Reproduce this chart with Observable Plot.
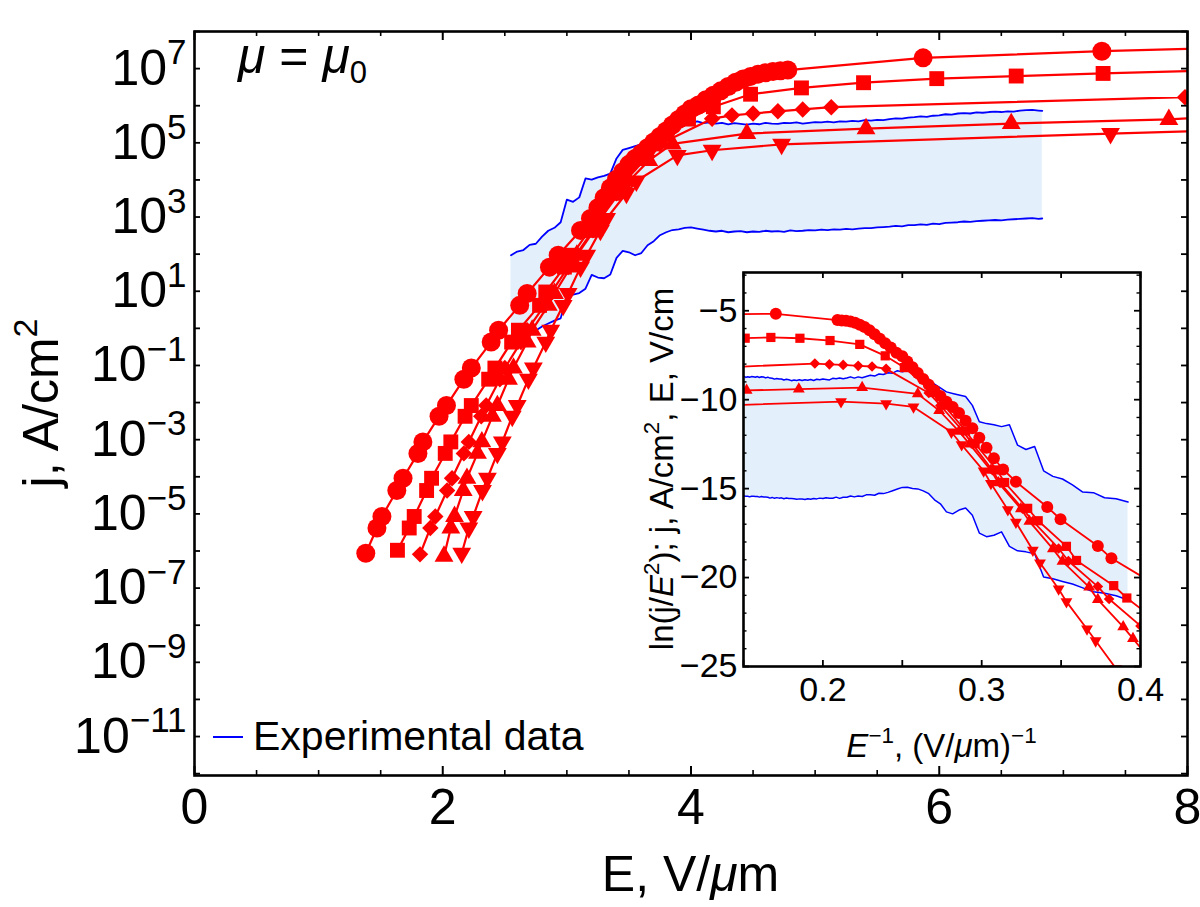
<!DOCTYPE html>
<html><head><meta charset="utf-8">
<script src="https://cdn.jsdelivr.net/npm/d3@7"></script>
<script src="https://cdn.jsdelivr.net/npm/@observablehq/plot@0.6"></script>
<style>
html,body{margin:0;padding:0;background:#fff;}
#wrap{position:relative;width:1200px;height:907px;overflow:hidden;background:#fff;}
#inset{position:absolute;left:640px;top:255px;}
</style></head>
<body><div id="wrap"><div id="main"></div><div id="inset"></div></div>
<script>
// ---------------- DATA (E in V/um, log10 of j in A/cm^2) ----------------
const circleE    = [1.38,1.47,1.51,1.63,1.68,1.80,1.84,1.97,2.03,2.17,2.23,2.39,2.45,2.62,2.68,2.86,2.93,3.11,3.19,
                    3.25,3.30,3.35,3.40,3.45,3.50,3.55,3.60,3.65,3.70,3.75,3.80,3.85,3.90,3.95,4.00,4.06,4.12,4.18,4.24,4.30,4.36,4.42,4.48,4.54,4.60,4.66,4.72,4.78,5.87,7.31];
const circleLogJ = [-6.06,-5.38,-5.07,-4.37,-4.04,-3.37,-3.06,-2.37,-2.08,-1.37,-1.07,-0.37,-0.05,0.62,0.94,1.65,1.97,2.64,2.96,
                    3.25,3.52,3.78,4.02,4.22,4.42,4.58,4.72,4.87,5.02,5.17,5.32,5.48,5.63,5.78,5.92,6.02,6.16,6.28,6.40,6.52,6.63,6.72,6.79,6.85,6.89,6.92,6.94,6.96,7.29,7.47];
const circleEnd  = [8.0, 7.53];

const squareE    = [1.635,1.73,1.77,1.87,1.91,2.02,2.065,2.18,2.23,2.37,2.42,2.555,2.61,2.78,2.83,2.98,3.04,3.18,3.23,3.38,3.45,3.62,3.71,3.98,4.18,4.48,4.89,5.39,5.98,6.62,7.32];
const squareLogJ = [-5.98,-5.38,-5.07,-4.37,-4.04,-3.37,-3.06,-2.37,-2.08,-1.37,-1.07,-0.37,-0.05,0.62,0.98,1.65,1.97,2.64,2.96,3.64,3.97,4.64,4.97,5.64,5.97,6.31,6.48,6.62,6.73,6.80,6.87];
const squareEnd  = [8.0, 6.93];

const diamondE    = [1.817,1.90,1.94,2.035,2.075,2.17,2.21,2.31,2.35,2.46,2.50,2.63,2.68,2.82,2.87,3.01,3.07,3.21,3.26,3.40,3.47,3.65,3.75,4.17,4.33,4.50,4.70,4.90,5.13,7.98];
const diamondLogJ = [-6.09,-5.38,-5.07,-4.37,-4.04,-3.37,-3.06,-2.37,-2.08,-1.37,-1.07,-0.37,-0.05,0.62,0.94,1.65,1.97,2.64,2.96,3.64,3.97,4.64,4.97,5.65,5.74,5.79,5.85,5.90,5.96,6.23];
const diamondEnd  = [8.0, 6.235];

const triUpE    = [2.01,2.065,2.095,2.165,2.195,2.28,2.315,2.40,2.44,2.53,2.57,2.68,2.72,2.85,2.90,3.03,3.08,3.22,3.27,3.42,3.50,3.66,3.85,4.45,5.41,6.58,7.85];
const triUpLogJ = [-6.14,-5.38,-5.07,-4.37,-4.04,-3.37,-3.06,-2.37,-2.08,-1.37,-1.07,-0.37,-0.05,0.62,0.94,1.65,1.97,2.64,2.96,3.64,3.97,4.52,4.97,5.25,5.38,5.52,5.63];
const triUpEnd  = [8.0, 5.66];

const triDownE    = [2.153,2.21,2.245,2.32,2.36,2.44,2.48,2.56,2.60,2.69,2.73,2.83,2.87,2.97,3.01,3.11,3.16,3.27,3.32,3.48,3.56,3.89,4.17,4.73,7.38];
const triDownLogJ = [-6.06,-5.38,-5.07,-4.37,-4.04,-3.37,-3.06,-2.37,-2.08,-1.37,-1.07,-0.37,-0.05,0.62,0.94,1.65,1.97,2.64,2.96,3.64,3.97,4.66,4.80,4.96,5.25];
const triDownEnd  = [8.0, 5.31];

// experimental band (upper and lower traces)
const expE = [2.55,2.60,2.65,2.70,2.75,2.80,2.85,2.90,2.95,3.00,3.05,3.10,3.15,3.20,3.25,3.30,3.35,3.40,3.45,3.50,3.55,3.60,3.65,3.70,3.75,3.80,3.85,3.90,3.95,4.00,
              4.05,4.10,4.15,4.20,4.25,4.30,4.35,4.40,4.45,4.50,4.55,4.60,4.65,4.70,4.75,4.80,4.85,4.90,4.95,5.00,5.05,5.10,5.15,5.20,5.25,5.30,5.35,5.40,5.45,5.50,
              5.55,5.60,5.65,5.70,5.75,5.80,5.85,5.90,5.95,6.00,6.05,6.10,6.15,6.20,6.25,6.30,6.35,6.40,6.45,6.50,6.55,6.60,6.65,6.70,6.75,6.80,6.83];
const expHiLogJ = [1.97,2.07,2.11,2.25,2.28,2.47,2.63,2.71,2.86,3.47,3.41,3.53,4.04,4.01,4.07,4.11,4.17,4.58,4.81,4.86,4.91,4.96,5.07,5.17,5.31,5.37,5.45,5.50,5.56,5.54,
              5.58,5.53,5.55,5.52,5.54,5.50,5.53,5.51,5.49,5.52,5.50,5.54,5.52,5.51,5.54,5.53,5.55,5.52,5.54,5.56,5.55,5.57,5.55,5.58,5.57,5.59,5.58,5.61,5.60,5.62,
              5.61,5.64,5.66,5.65,5.68,5.69,5.71,5.70,5.73,5.74,5.77,5.76,5.79,5.80,5.79,5.82,5.81,5.83,5.84,5.83,5.85,5.84,5.87,5.88,5.89,5.87,5.86];
const expLoLogJ = [-0.42,-0.30,-0.22,-0.17,-0.06,0.05,0.13,0.21,0.27,0.85,0.91,0.95,1.07,1.44,1.37,1.35,1.45,1.90,2.09,2.05,1.97,2.03,2.24,2.35,2.51,2.59,2.65,2.67,2.71,2.72,
              2.69,2.66,2.63,2.61,2.63,2.59,2.61,2.62,2.59,2.61,2.60,2.63,2.61,2.62,2.60,2.64,2.62,2.63,2.65,2.64,2.66,2.65,2.67,2.66,2.68,2.67,2.69,2.70,2.70,2.72,
              2.73,2.74,2.76,2.75,2.78,2.78,2.80,2.79,2.82,2.81,2.84,2.85,2.86,2.88,2.87,2.89,2.90,2.91,2.92,2.91,2.93,2.94,2.95,2.96,2.97,2.95,2.96];

// axis ticks
const xMajorTicks = [0, 2, 4, 6, 8];
const xMinorTicks = [0.5, 1, 1.5, 2.5, 3, 3.5, 4.5, 5, 5.5, 6.5, 7, 7.5];
const yDecades = [-12,-11,-10,-9,-8,-7,-6,-5,-4,-3,-2,-1,0,1,2,3,4,5,6,7,8];
const yLabelDecades = [-11,-9,-7,-5,-3,-1,1,3,5,7];
const insetXTicks = [0.15, 0.2, 0.25, 0.3, 0.35, 0.4];
const insetXLabels = [0.2, 0.3, 0.4];
const insetYMajor = [-25, -20, -15, -10, -5];
const insetYMinor = [-24,-23,-22,-21,-19,-18,-17,-16,-14,-13,-12,-11,-9,-8,-7,-6,-4,-3];

// ---------------- BUILD ----------------
const RED = "#ff0000", BLUE = "#0000ff", FILL = "#e3f0fb";
const FONT = "'Liberation Sans', Arial, Helvetica, sans-serif";
const series = [
  {name: "circle",  E: circleE,  L: circleLogJ,  end: circleEnd,  symbol: "circle",   rot: 0,   r: 9.5, ri: 6},
  {name: "square",  E: squareE,  L: squareLogJ,  end: squareEnd,  symbol: "square",   rot: 0,   r: 8.4, ri: 5.2},
  {name: "diamond", E: diamondE, L: diamondLogJ, end: diamondEnd, symbol: "diamond2", rot: 0,   r: 7.4, ri: 4.8},
  {name: "triUp",   E: triUpE,   L: triUpLogJ,   end: triUpEnd,   symbol: "triangle", rot: 0,   r: 7.0, ri: 4.4},
  {name: "triDown", E: triDownE, L: triDownLogJ, end: triDownEnd, symbol: "triangle", rot: 180, r: 7.0, ri: 4.4}
];
const fnX = E => 1 / E;
const fnY = (E, lj) => lj * Math.LN10 - 2 * Math.log(E * 1e4);

const lineRows = series.flatMap(s => [...s.E.map((E, i) => ({s: s.name, E, lj: s.L[i]})), {s: s.name, E: s.end[0], lj: s.end[1]}])
  .map(d => ({...d, j: 10 ** d.lj, ix: fnX(d.E), iy: fnY(d.E, d.lj)}));
const markerRows = s => s.E.map((E, i) => ({E, j: 10 ** s.L[i], ix: fnX(E), iy: fnY(E, s.L[i])}));
const expRows = expE.map((E, i) => ({E, hi: 10 ** expHiLogJ[i], lo: 10 ** expLoLogJ[i],
  ix: fnX(E), ihi: fnY(E, expHiLogJ[i]), ilo: fnY(E, expLoLogJ[i])}));

// rich text helper (render-function mark)
function rich(parts, {x, y, size, anchor = "start", rotate = 0}) {
  return () => {
    const g = d3.create("svg:g").attr("transform", `translate(${x},${y}) rotate(${rotate})`);
    const t = g.append("text").attr("text-anchor", anchor).attr("font-size", size).attr("font-family", FONT).attr("fill", "black");
    let shift = 0;
    for (const p of parts) {
      const sp = t.append("tspan").text(p.t);
      let target = 0, fs = size;
      if (p.sup) { target = -0.42 * size; fs = 0.68 * size; }
      if (p.sub) { target = 0.2 * size; fs = 0.62 * size; }
      sp.attr("font-size", fs);
      if (target !== shift) { sp.attr("dy", target - shift); shift = target; }
      if (p.i) sp.attr("font-style", "italic");
    }
    return g.node();
  };
}

const W = 1200, H = 907, mL = 194, mR = 13, mT = 31, mB = 132;
const iw = W - mL - mR, ih = H - mT - mB;

const fmtExp = k => (k < 0 ? "\u2212" + (-k) : String(k));

const main = Plot.plot({
  width: W, height: H, marginLeft: mL, marginRight: mR, marginTop: mT, marginBottom: mB,
  style: {fontFamily: FONT, background: "white", overflow: "visible"},
  x: {domain: [0, 8]},
  y: {type: "log", domain: [10 ** -12.05, 1e8]},
  marks: [
    Plot.areaY(expRows, {x: "E", y1: "lo", y2: "hi", fill: FILL}),
    Plot.line(expRows, {x: "E", y: "hi", stroke: BLUE, strokeWidth: 1.8}),
    Plot.line(expRows, {x: "E", y: "lo", stroke: BLUE, strokeWidth: 1.8}),
    Plot.line(lineRows, {x: "E", y: "j", z: "s", stroke: RED, strokeWidth: 2.2, clip: true}),
    ...series.map(s => Plot.dot(markerRows(s), {x: "E", y: "j", symbol: s.symbol, rotate: s.rot, r: s.r, fill: RED, stroke: "none", clip: true})),
    Plot.frame({stroke: "black", strokeWidth: 2.6}),
    Plot.tickX(xMajorTicks, {x: d => d, insetTop: ih - 9, stroke: "black", strokeWidth: 2}),
    Plot.tickX(xMajorTicks, {x: d => d, insetBottom: ih - 9, stroke: "black", strokeWidth: 2}),
    Plot.tickX(xMinorTicks, {x: d => d, insetTop: ih - 5, stroke: "black", strokeWidth: 1.6}),
    Plot.tickX(xMinorTicks, {x: d => d, insetBottom: ih - 5, stroke: "black", strokeWidth: 1.6}),
    Plot.tickY(yDecades.map(k => 10 ** k), {y: d => d, insetRight: iw - 6, stroke: "black", strokeWidth: 1.8}),
    Plot.tickY(yDecades.map(k => 10 ** k), {y: d => d, insetLeft: iw - 6, stroke: "black", strokeWidth: 1.8}),
    Plot.axisX({ticks: xMajorTicks, tickSize: 0, tickPadding: 13, fontSize: 50, label: null, tickFormat: d => String(d)}),
    Plot.axisY({ticks: yLabelDecades.map(k => 10 ** k), tickSize: 0, tickPadding: 8, fontSize: 50, label: null,
                tickFormat: d => "10^" + fmtExp(Math.round(Math.log10(d)))}),
    rich([{t: "E, V/"}, {t: "\u03bc", i: true}, {t: "m"}], {x: mL + iw / 2, y: 891, size: 50, anchor: "middle"}),
    rich([{t: "j, A/cm"}, {t: "2", sup: true}], {x: 58, y: mT + ih / 2, size: 50, anchor: "middle", rotate: -90}),
    rich([{t: "\u03bc", i: true}, {t: " = "}, {t: "\u03bc", i: true}, {t: "0", sub: true}], {x: 238, y: 73, size: 50}),
    rich([{t: "Experimental data"}], {x: 253, y: 750, size: 41}),
    () => d3.create("svg:line").attr("x1", 213).attr("x2", 243).attr("y1", 737).attr("y2", 737).attr("stroke", BLUE).attr("stroke-width", 2).node()
  ]
});
// superscript exponents on the log tick labels
d3.select(main).selectAll('g[aria-label="y-axis tick label"] text').each(function () {
  const s = this.textContent.split("^");
  const t = d3.select(this);
  t.text(s[0]);
  t.append("tspan").attr("dy", "-0.58em").attr("font-size", "0.7em").text(s[1]);
});
document.getElementById("main").appendChild(main);

// ---------------- INSET ----------------
const IW = 550, IH = 510, imL = 103, imR = 50, imT = 17, imB = 99;
const iiw = IW - imL - imR, iih = IH - imT - imB;
const inset = Plot.plot({
  width: IW, height: IH, marginLeft: imL, marginRight: imR, marginTop: imT, marginBottom: imB,
  style: {fontFamily: FONT, background: "transparent", overflow: "visible"},
  x: {domain: [0.15, 0.4]},
  y: {domain: [-25, -2.85]},
  marks: [
    Plot.frame({fill: "white"}),
    Plot.areaY(expRows, {x: "ix", y1: "ilo", y2: "ihi", fill: FILL, clip: true}),
    Plot.line(expRows, {x: "ix", y: "ihi", stroke: BLUE, strokeWidth: 1.5, clip: true}),
    Plot.line(expRows, {x: "ix", y: "ilo", stroke: BLUE, strokeWidth: 1.5, clip: true}),
    Plot.line(lineRows, {x: "ix", y: "iy", z: "s", stroke: RED, strokeWidth: 1.8, clip: true}),
    ...series.map(s => Plot.dot(markerRows(s), {x: "ix", y: "iy", symbol: s.symbol, rotate: s.rot, r: s.ri, fill: RED, stroke: "none", clip: true})),
    Plot.frame({stroke: "black", strokeWidth: 2.6}),
    Plot.tickX(insetXTicks, {x: d => d, insetTop: iih - 6, stroke: "black", strokeWidth: 1.8}),
    Plot.tickX(insetXTicks, {x: d => d, insetBottom: iih - 6, stroke: "black", strokeWidth: 1.8}),
    Plot.tickY(insetYMajor, {y: d => d, insetRight: iiw - 6, stroke: "black", strokeWidth: 1.8}),
    Plot.tickY(insetYMajor, {y: d => d, insetLeft: iiw - 6, stroke: "black", strokeWidth: 1.8}),
    Plot.tickY(insetYMinor, {y: d => d, insetRight: iiw - 3.5, stroke: "black", strokeWidth: 1.4}),
    Plot.tickY(insetYMinor, {y: d => d, insetLeft: iiw - 3.5, stroke: "black", strokeWidth: 1.4}),
    Plot.axisX({ticks: insetXLabels, tickSize: 0, tickPadding: 10, fontSize: 34, label: null, tickFormat: d => d.toFixed(1)}),
    Plot.axisY({ticks: insetYMajor, tickSize: 0, tickPadding: 6, fontSize: 34, label: null}),
    rich([{t: "E", i: true}, {t: "\u22121", sup: true}, {t: ", (V/"}, {t: "\u03bc", i: true}, {t: "m)"}, {t: "\u22121", sup: true}],
         {x: imL + iiw / 2, y: 502, size: 33, anchor: "middle"}),
    rich([{t: "ln(j/"}, {t: "E", i: true}, {t: "2", sup: true}, {t: "); j, A/cm"}, {t: "2", sup: true}, {t: ", E, V/cm"}],
         {x: 33, y: imT + iih / 2, size: 33, anchor: "middle", rotate: -90})
  ]
});
document.getElementById("inset").appendChild(inset);
</script></body></html>
